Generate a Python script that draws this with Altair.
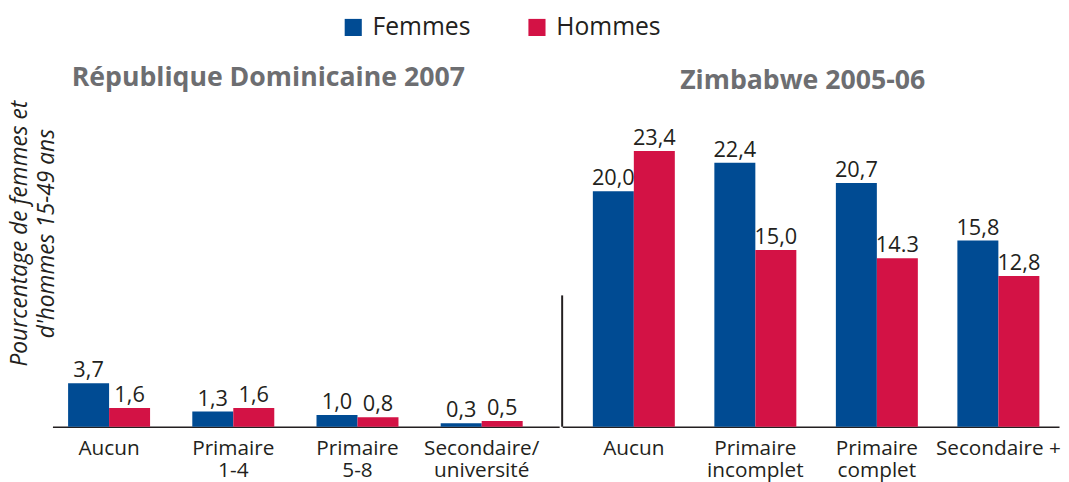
import altair as alt
import pandas as pd

SEXES = ["Femmes", "Hommes"]
COLORS = ["#004b93", "#d31245"]

DR_TITLE = "République Dominicaine 2007"
DR_CATS = ["Aucun", "Primaire|1-4", "Primaire|5-8", "Secondaire/|université"]
DR_FEMMES = [3.7, 1.3, 1.0, 0.3]
DR_HOMMES = [1.6, 1.6, 0.8, 0.5]
DR_FEMMES_TXT = ["3,7", "1,3", "1,0", "0,3"]
DR_HOMMES_TXT = ["1,6", "1,6", "0,8", "0,5"]

ZW_TITLE = "Zimbabwe 2005-06"
ZW_CATS = ["Aucun", "Primaire|incomplet", "Primaire|complet", "Secondaire +"]
ZW_FEMMES = [20.0, 22.4, 20.7, 15.8]
ZW_HOMMES = [23.4, 15.0, 14.3, 12.8]
ZW_FEMMES_TXT = ["20,0", "22,4", "20,7", "15,8"]
ZW_HOMMES_TXT = ["23,4", "15,0", "14.3", "12,8"]

Y_TITLE = ["Pourcentage de femmes et", "d'hommes 15-49 ans"]

FONT = "Open Sans"
INK = "#231f20"
GREY = "#6d6e71"
Y_MAX = 27.5
PLOT_H = 328


def long_table(cats, fem, hom, fem_txt, hom_txt):
    rows = []
    for c, f, h, ft, ht in zip(cats, fem, hom, fem_txt, hom_txt):
        rows.append({"cat": c, "sex": SEXES[0], "value": f, "txt": ft})
        rows.append({"cat": c, "sex": SEXES[1], "value": h, "txt": ht})
    return pd.DataFrame(rows)


LEGEND = alt.Legend(
    orient="none", legendX=292, legendY=-89, direction="horizontal", title=None,
    symbolType="square", symbolSize=300, symbolStrokeWidth=0, symbolOpacity=1,
    labelFont=FONT, labelFontSize=25, labelColor=INK, labelOffset=7,
    columnPadding=54, padding=0,
)


def panel(df, cats, title, width, pad_inner, pad_outer, align, title_dx, y_axis, extra=None):
    x = alt.X(
        "cat:N", sort=cats, title=None,
        scale=alt.Scale(paddingInner=pad_inner, paddingOuter=pad_outer, align=align),
        axis=alt.Axis(
            labelExpr="split(datum.label, '|')", labelAngle=0, labelFont=FONT,
            labelFontSize=21, labelColor=INK, labelLineHeight=22, labelPadding=11,
            labelBaseline="top", ticks=False, tickSize=0, domainColor=INK,
            domainWidth=1.5, grid=False,
        ),
    )
    xo = alt.XOffset("sex:N", sort=SEXES, scale=alt.Scale(paddingInner=0, paddingOuter=0))
    y = alt.Y("value:Q", scale=alt.Scale(domain=[0, Y_MAX], nice=False, zero=True), axis=y_axis)
    color = alt.Color("sex:N", sort=SEXES, scale=alt.Scale(domain=SEXES, range=COLORS), legend=LEGEND)
    base = alt.Chart(df)
    bars = base.mark_bar(opacity=1).encode(x=x, xOffset=xo, y=y, color=color)
    labels = base.mark_text(
        baseline="alphabetic", dy=-6, font=FONT, fontSize=22, color=INK
    ).encode(x=x, xOffset=xo, y=y, text="txt:N")
    layers = [bars, labels] + (extra or [])
    return alt.layer(*layers).properties(
        width=width, height=PLOT_H,
        title=alt.TitleParams(
            text=title, font=FONT, fontSize=27, fontWeight="bold", color=GREY,
            anchor="middle", frame="group", dx=title_dx, dy=24, offset=11,
            baseline="alphabetic",
        ),
    )


y_axis_left = alt.Axis(
    title=Y_TITLE, titleFont=FONT, titleFontSize=23, titleFontStyle="italic",
    titleFontWeight="normal", titleColor=INK, titleAngle=270, titleAlign="center",
    titleBaseline="alphabetic", titleX=-26, titleY=132, titleLineHeight=27,
    labels=False, ticks=False, domain=False, grid=False,
)

separator = alt.Chart(pd.DataFrame({"k": [0]})).mark_rule(color=INK, strokeWidth=2).encode(
    x=alt.value(0), y=alt.value(195), y2=alt.value(328)
)

left = panel(long_table(DR_CATS, DR_FEMMES, DR_HOMMES, DR_FEMMES_TXT, DR_HOMMES_TXT),
             DR_CATS, DR_TITLE, 513, 0.34, 0.21, 0.30, -38, y_axis_left)
right = panel(long_table(ZW_CATS, ZW_FEMMES, ZW_HOMMES, ZW_FEMMES_TXT, ZW_HOMMES_TXT),
              ZW_CATS, ZW_TITLE, 503, 0.325, 0.207, 0.61, -8, None, extra=[separator])

chart = alt.hconcat(left, right, spacing=0).properties(
    padding={"left": 0, "top": 4, "right": 0, "bottom": 0}
).configure_view(stroke="transparent")

chart.save("out.html", embed_options={"renderer": "svg", "actions": False})
